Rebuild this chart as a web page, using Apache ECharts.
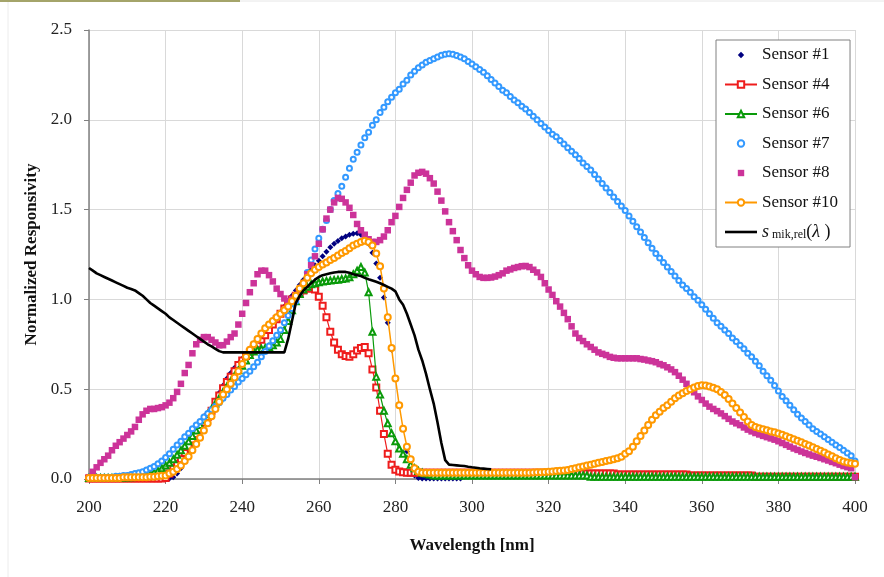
<!DOCTYPE html>
<html>
<head>
<meta charset="utf-8">
<script src="https://cdn.jsdelivr.net/npm/echarts@6/dist/echarts.min.js"></script>
<style>
html,body{margin:0;padding:0;background:#fff;}
#chart{width:884px;height:577px;}
</style>
</head>
<body>
<div id="chart"></div>
<script>
// Wavelength axis positions (nm), 1 nm steps
const wavelengths = Array.from({length: 201}, (_, i) => 200 + i);
const xTicks = [200,220,240,260,280,300,320,340,360,380,400];
const yTicks = ['0.0','0.5','1.0','1.5','2.0','2.5'];

const sensor1 = [
0,0,0,0,0,0,0,0,0,0,
0,0,0,0,0,0,0,0,0,0,
0,0.003,0.01,0.03,0.06,0.1,0.14,0.19,0.23,0.27,
0.31,0.35,0.39,0.435,0.48,0.52,0.56,0.59,0.62,0.645,
0.67,0.695,0.72,0.745,0.77,0.8,0.83,0.86,0.88,0.905,
0.93,0.96,0.99,1.02,1.05,1.08,1.11,1.14,1.165,1.19,
1.215,1.24,1.265,1.29,1.31,1.325,1.34,1.35,1.36,1.365,
1.368,1.36,1.345,1.31,1.26,1.2,1.12,1.01,0.87,0.72,
0.56,0.41,0.28,0.155,0.08,0.02,0.005,0.003,0.003,0.003,
0.003,0.003,0.003,0.003,0.003,0.003,0.003,0.003,0.02,0.035,
0.035,0.035,0.035,0.035,0.035,0.035,0.035,0.035,0.035,0.035,
0.035,0.035,0.035,0.035,0.035,0.035,0.035,0.035,0.035,0.035,
0.032,0.032,0.032,0.032,0.032,0.032,0.032,0.032,0.032,0.032,
0.03,0.03,0.03,0.03,0.03,0.03,0.008,0.008,0.008,0.008,
0.008,0.008,0.008,0.008,0.008,0.008,0.008,0.008,0.008,0.008,
0.008,0.008,0.008,0.008,0.008,0.008,0.008,0.008,0.008,0.008,
0.008,0.008,0.008,0.008,0.008,0.008,0.008,0.008,0.008,0.008,
0.008,0.008,0.008,0.008,0.008,0.008,0.008,0.008,0.008,0.008,
0.008,0.008,0.008,0.008,0.008,0.008,0.008,0.008,0.008,0.008,
0.008,0.008,0.008,0.008,0.008,0.008,0.008,0.008,0.008,0.008,
0.008];

const sensor4 = [
0.003,0.003,0.003,0.003,0.003,0.003,0.003,0.003,0.003,0.003,
0.003,0.003,0.003,0.003,0.003,0.003,0.003,0.003,0.003,0.003,
0.005,0.03,0.06,0.085,0.11,0.145,0.18,0.22,0.25,0.275,
0.315,0.345,0.38,0.43,0.465,0.505,0.54,0.57,0.6,0.635,
0.66,0.685,0.705,0.725,0.75,0.775,0.8,0.83,0.86,0.89,
0.92,0.95,0.975,1.0,1.02,1.035,1.05,1.06,1.06,1.055,
1.015,0.965,0.9,0.82,0.76,0.72,0.695,0.685,0.68,0.695,
0.715,0.73,0.735,0.7,0.61,0.51,0.38,0.25,0.14,0.08,
0.052,0.042,0.038,0.035,0.035,0.035,0.035,0.035,0.035,0.035,
0.035,0.035,0.035,0.035,0.035,0.035,0.035,0.035,0.035,0.035,
0.035,0.035,0.035,0.035,0.035,0.035,0.035,0.035,0.035,0.035,
0.035,0.035,0.035,0.035,0.035,0.035,0.035,0.035,0.035,0.035,
0.035,0.03,0.03,0.03,0.03,0.03,0.03,0.03,0.03,0.03,
0.03,0.03,0.03,0.03,0.03,0.03,0.03,0.03,0.025,0.025,
0.025,0.025,0.025,0.025,0.025,0.025,0.025,0.025,0.025,0.025,
0.025,0.025,0.025,0.025,0.025,0.025,0.025,0.02,0.02,0.02,
0.02,0.02,0.02,0.02,0.02,0.02,0.02,0.02,0.02,0.02,
0.02,0.02,0.02,0.02,0.013,0.013,0.013,0.013,0.013,0.013,
0.013,0.013,0.013,0.013,0.013,0.013,0.013,0.013,0.013,0.013,
0.013,0.013,0.013,0.013,0.013,0.013,0.013,0.013,0.013,0.013,
0.013];

const sensor6 = [
0.005,0.005,0.005,0.005,0.005,0.005,0.005,0.005,0.007,0.008,
0.01,0.01,0.012,0.015,0.018,0.022,0.03,0.037,0.045,0.06,
0.075,0.09,0.11,0.135,0.16,0.185,0.21,0.24,0.27,0.3,
0.33,0.36,0.39,0.42,0.45,0.485,0.515,0.545,0.575,0.605,
0.63,0.66,0.69,0.71,0.72,0.725,0.73,0.735,0.745,0.76,
0.78,0.83,0.88,0.94,0.99,1.03,1.055,1.07,1.085,1.09,
1.095,1.1,1.103,1.105,1.108,1.11,1.113,1.117,1.123,1.14,
1.16,1.18,1.15,1.04,0.82,0.57,0.47,0.38,0.31,0.255,
0.21,0.17,0.14,0.11,0.08,0.06,0.045,0.035,0.03,0.025,
0.02,0.02,0.02,0.02,0.02,0.02,0.02,0.02,0.02,0.02,
0.02,0.02,0.02,0.02,0.02,0.02,0.02,0.02,0.02,0.02,
0.02,0.02,0.02,0.02,0.02,0.02,0.02,0.02,0.02,0.02,
0.02,0.02,0.02,0.02,0.02,0.02,0.02,0.02,0.02,0.02,
0.02,0.012,0.012,0.012,0.012,0.012,0.012,0.012,0.012,0.012,
0.012,0.012,0.012,0.012,0.012,0.012,0.012,0.012,0.012,0.012,
0.012,0.012,0.012,0.012,0.012,0.012,0.012,0.012,0.012,0.012,
0.012,0.012,0.012,0.012,0.012,0.012,0.012,0.012,0.012,0.012,
0.012,0.012,0.012,0.012,0.012,0.012,0.012,0.012,0.012,0.012,
0.012,0.012,0.012,0.012,0.012,0.012,0.012,0.012,0.012,0.012,
0.012,0.012,0.012,0.012,0.012,0.012,0.012,0.012,0.012,0.012,
0.012];

const sensor7 = [
0.01,0.01,0.01,0.01,0.01,0.01,0.01,0.015,0.015,0.02,
0.02,0.025,0.03,0.035,0.04,0.05,0.06,0.07,0.085,0.1,
0.12,0.14,0.165,0.19,0.21,0.235,0.255,0.28,0.3,0.32,
0.345,0.365,0.385,0.405,0.425,0.45,0.47,0.495,0.515,0.54,
0.56,0.58,0.6,0.625,0.65,0.68,0.71,0.74,0.77,0.8,
0.83,0.87,0.91,0.95,0.99,1.04,1.09,1.15,1.22,1.28,
1.34,1.39,1.44,1.5,1.55,1.59,1.63,1.68,1.73,1.78,
1.82,1.86,1.9,1.93,1.97,2.0,2.04,2.07,2.1,2.125,
2.15,2.17,2.2,2.22,2.25,2.27,2.29,2.305,2.32,2.33,
2.34,2.35,2.36,2.365,2.368,2.365,2.358,2.35,2.34,2.325,
2.31,2.295,2.28,2.265,2.245,2.225,2.205,2.185,2.165,2.15,
2.13,2.11,2.095,2.075,2.06,2.04,2.02,2.0,1.98,1.96,
1.94,1.92,1.905,1.885,1.865,1.845,1.825,1.805,1.785,1.76,
1.74,1.72,1.695,1.67,1.645,1.62,1.595,1.57,1.545,1.52,
1.495,1.465,1.435,1.405,1.375,1.345,1.315,1.285,1.255,1.23,
1.205,1.18,1.155,1.13,1.105,1.08,1.06,1.04,1.015,0.995,
0.97,0.945,0.92,0.895,0.87,0.85,0.83,0.81,0.785,0.765,
0.745,0.725,0.7,0.68,0.655,0.63,0.6,0.575,0.55,0.52,
0.49,0.46,0.435,0.41,0.385,0.36,0.34,0.32,0.3,0.28,
0.265,0.25,0.235,0.22,0.205,0.19,0.175,0.16,0.145,0.13,
0.1];

const sensor8 = [
0.01,0.04,0.065,0.09,0.11,0.13,0.16,0.185,0.205,0.225,
0.245,0.265,0.29,0.33,0.36,0.38,0.39,0.39,0.395,0.4,
0.41,0.425,0.45,0.485,0.53,0.59,0.635,0.7,0.75,0.775,
0.79,0.79,0.775,0.76,0.745,0.745,0.765,0.79,0.81,0.86,
0.92,0.98,1.04,1.09,1.14,1.16,1.16,1.135,1.1,1.06,
1.03,1.005,0.99,1.0,1.02,1.05,1.09,1.14,1.19,1.24,
1.31,1.39,1.45,1.5,1.54,1.565,1.56,1.54,1.51,1.47,
1.42,1.385,1.36,1.335,1.32,1.32,1.33,1.35,1.385,1.43,
1.465,1.515,1.565,1.61,1.65,1.69,1.705,1.71,1.7,1.675,
1.645,1.6,1.55,1.49,1.43,1.38,1.33,1.275,1.23,1.19,
1.16,1.14,1.125,1.12,1.12,1.122,1.127,1.135,1.145,1.16,
1.167,1.175,1.18,1.185,1.186,1.18,1.165,1.15,1.125,1.09,
1.055,1.025,0.99,0.96,0.925,0.89,0.85,0.81,0.785,0.768,
0.75,0.735,0.72,0.705,0.697,0.69,0.68,0.675,0.672,0.672,
0.672,0.672,0.672,0.672,0.668,0.665,0.66,0.656,0.65,0.64,
0.633,0.622,0.61,0.595,0.575,0.553,0.53,0.503,0.483,0.46,
0.44,0.42,0.403,0.39,0.378,0.365,0.35,0.335,0.32,0.31,
0.3,0.287,0.275,0.265,0.256,0.248,0.24,0.233,0.226,0.219,
0.21,0.2,0.19,0.18,0.17,0.162,0.153,0.145,0.137,0.13,
0.124,0.117,0.11,0.103,0.095,0.088,0.08,0.072,0.066,0.06,
0.01];

const sensor10 = [
0.005,0.005,0.005,0.005,0.005,0.005,0.005,0.005,0.005,0.01,
0.01,0.01,0.01,0.01,0.01,0.01,0.012,0.013,0.015,0.018,
0.02,0.03,0.04,0.055,0.075,0.1,0.125,0.16,0.195,0.23,
0.27,0.31,0.35,0.39,0.43,0.47,0.5,0.53,0.565,0.6,
0.64,0.68,0.72,0.75,0.78,0.81,0.84,0.86,0.88,0.9,
0.92,0.94,0.96,0.99,1.02,1.06,1.09,1.12,1.145,1.165,
1.18,1.195,1.205,1.22,1.23,1.245,1.258,1.27,1.285,1.3,
1.31,1.32,1.327,1.32,1.3,1.255,1.185,1.06,0.9,0.73,
0.56,0.41,0.28,0.18,0.11,0.06,0.04,0.035,0.035,0.035,
0.035,0.035,0.035,0.035,0.035,0.035,0.035,0.035,0.035,0.035,
0.035,0.035,0.035,0.035,0.035,0.035,0.035,0.035,0.035,0.035,
0.035,0.035,0.035,0.035,0.035,0.035,0.036,0.037,0.038,0.039,
0.04,0.042,0.044,0.046,0.048,0.05,0.055,0.06,0.065,0.07,
0.075,0.08,0.085,0.09,0.095,0.1,0.105,0.11,0.115,0.124,
0.14,0.155,0.18,0.21,0.24,0.27,0.3,0.33,0.355,0.375,
0.395,0.41,0.43,0.45,0.465,0.478,0.49,0.5,0.51,0.518,
0.522,0.52,0.515,0.508,0.5,0.485,0.468,0.445,0.42,0.395,
0.37,0.345,0.32,0.3,0.29,0.283,0.277,0.271,0.265,0.26,
0.253,0.246,0.238,0.23,0.222,0.213,0.204,0.195,0.186,0.177,
0.167,0.157,0.147,0.137,0.126,0.116,0.106,0.098,0.092,0.088,
0.085];

// s_mik,rel(lambda), 200..305 nm
const sMikRel = [
1.175,1.16,1.145,1.135,1.125,1.115,1.105,1.095,1.085,1.075,
1.065,1.058,1.05,1.035,1.02,1.0,0.98,0.965,0.95,0.935,
0.92,0.9,0.885,0.87,0.855,0.84,0.825,0.81,0.795,0.78,
0.765,0.75,0.738,0.725,0.712,0.705,0.705,0.705,0.705,0.705,
0.705,0.705,0.705,0.705,0.705,0.705,0.705,0.705,0.705,0.705,
0.705,0.705,0.78,0.88,0.98,1.02,1.05,1.07,1.09,1.11,
1.125,1.135,1.14,1.145,1.15,1.153,1.153,1.153,1.148,1.14,
1.135,1.13,1.12,1.112,1.105,1.098,1.09,1.08,1.07,1.06,
1.045,1.0,0.97,0.92,0.86,0.8,0.72,0.66,0.585,0.5,
0.42,0.315,0.2,0.105,0.08,0.078,0.076,0.074,0.072,0.068,
0.065,0.063,0.06,0.058,0.056,0.054];

const seriesNames = ['Sensor #1','Sensor #4','Sensor #6','Sensor #7','Sensor #8','Sensor #10','smik'];

function pairs(vals){ return vals.map((v,i)=>[wavelengths[i], v]); }

const FONT = '"Liberation Serif", "Times New Roman", serif';
const chart = echarts.init(document.getElementById('chart'), null, {renderer:'canvas'});

const noLine = {width:0, opacity:0};

const legendData = seriesNames.map(n => n === 'smik'
  ? {name:n, icon:'path://M0,0L32,0L32,2.6L0,2.6Z', itemStyle:{color:'#000000'}}
  : {name:n});

chart.setOption({
  animation:false,
  backgroundColor:'#ffffff',
  textStyle:{fontFamily:FONT},
  graphic:[
    {type:'rect', shape:{x:0,y:0,width:240,height:2}, style:{fill:'#a4a46a'}, z:100},
    {type:'line', shape:{x1:240,y1:1,x2:884,y2:1}, style:{stroke:'#e6e6e6',lineWidth:1}},
    {type:'line', shape:{x1:8,y1:2,x2:8,y2:577}, style:{stroke:'#ececec',lineWidth:1}}
  ],
  grid:{left:89, right:29, top:30, bottom:98, show:false},
  xAxis:{
    type:'value', min:200, max:400, interval:20,
    name:'Wavelength [nm]', nameLocation:'middle', nameGap:58,
    nameTextStyle:{fontFamily:FONT, fontSize:17, fontWeight:'bold', color:'#111'},
    axisLine:{show:true, onZero:false, lineStyle:{color:'#808080', width:1.5}},
    axisTick:{show:true, length:5, inside:false, lineStyle:{color:'#808080'}},
    axisLabel:{fontFamily:FONT, fontSize:17, color:'#222', margin:20,
      formatter:v=> xTicks.indexOf(v)>=0 ? String(v) : ''},
    splitLine:{show:true, lineStyle:{color:'#d9d9d9', width:1}}
  },
  yAxis:{
    type:'value', min:0, max:2.5, interval:0.5,
    name:'Normalized Responsivity', nameLocation:'middle', nameGap:48, nameRotate:90,
    nameTextStyle:{fontFamily:FONT, fontSize:17, fontWeight:'bold', color:'#111'},
    axisLine:{show:true, lineStyle:{color:'#808080', width:1.5}},
    axisTick:{show:true, length:5, lineStyle:{color:'#808080'}},
    axisLabel:{fontFamily:FONT, fontSize:17, color:'#222', margin:17,
      formatter:v=> yTicks[Math.round(v/0.5)]},
    splitLine:{show:true, lineStyle:{color:'#d9d9d9', width:1}}
  },
  legend:{
    orient:'vertical', left:716, top:40,
    backgroundColor:'#ffffff', borderColor:'#808080', borderWidth:1,
    padding:[6,12,6,8],
    itemWidth:32, itemHeight:8, itemGap:11.5,
    data:legendData,
    textStyle:{fontFamily:FONT, fontSize:17, color:'#111', lineHeight:18,
      rich:{
        i:{fontFamily:FONT, fontSize:18, fontStyle:'italic', color:'#111', lineHeight:18},
        sub:{fontFamily:FONT, fontSize:12, color:'#111', verticalAlign:'bottom', lineHeight:12},
        n:{fontFamily:FONT, fontSize:18, color:'#111', lineHeight:18}
      }},
    formatter:name => name==='smik' ? '{i|s}{sub| mik,rel}{n|(}{i|λ}{n| )}' : name
  },
  series:[
    {name:'Sensor #1', type:'line', data:pairs(sensor1), showAllSymbol:true,
      symbol:'diamond', symbolSize:6, lineStyle:noLine,
      itemStyle:{color:'#000080'}, z:2},
    {name:'Sensor #4', type:'line', data:pairs(sensor4), showAllSymbol:true,
      symbol:'emptyRect', symbolSize:6, lineStyle:{color:'#ee1c1c', width:1.2},
      itemStyle:{color:'#ee1c1c', borderWidth:1.2}, z:3},
    {name:'Sensor #6', type:'line', data:pairs(sensor6), showAllSymbol:true,
      symbol:'emptyTriangle', symbolSize:6, lineStyle:{color:'#0a9a0a', width:1.2},
      itemStyle:{color:'#0a9a0a', borderWidth:1.2}, z:4},
    {name:'Sensor #7', type:'line', data:pairs(sensor7), showAllSymbol:true,
      symbol:'emptyCircle', symbolSize:5, lineStyle:noLine,
      itemStyle:{color:'#3399ff', borderWidth:1.2}, z:5},
    {name:'Sensor #8', type:'line', data:pairs(sensor8), showAllSymbol:true,
      symbol:'rect', symbolSize:6.5, lineStyle:noLine,
      itemStyle:{color:'#cc3399'}, z:6},
    {name:'Sensor #10', type:'line', data:pairs(sensor10), showAllSymbol:true,
      symbol:'emptyCircle', symbolSize:6, lineStyle:{color:'#ff9900', width:1.5},
      itemStyle:{color:'#ff9900', borderWidth:1.2}, z:7},
    {name:'smik', type:'line', data:pairs(sMikRel), showSymbol:false, symbol:'none',
      lineStyle:{color:'#000000', width:2.6}, itemStyle:{color:'#000000'}, z:8}
  ]
});
</script>
</body>
</html>
